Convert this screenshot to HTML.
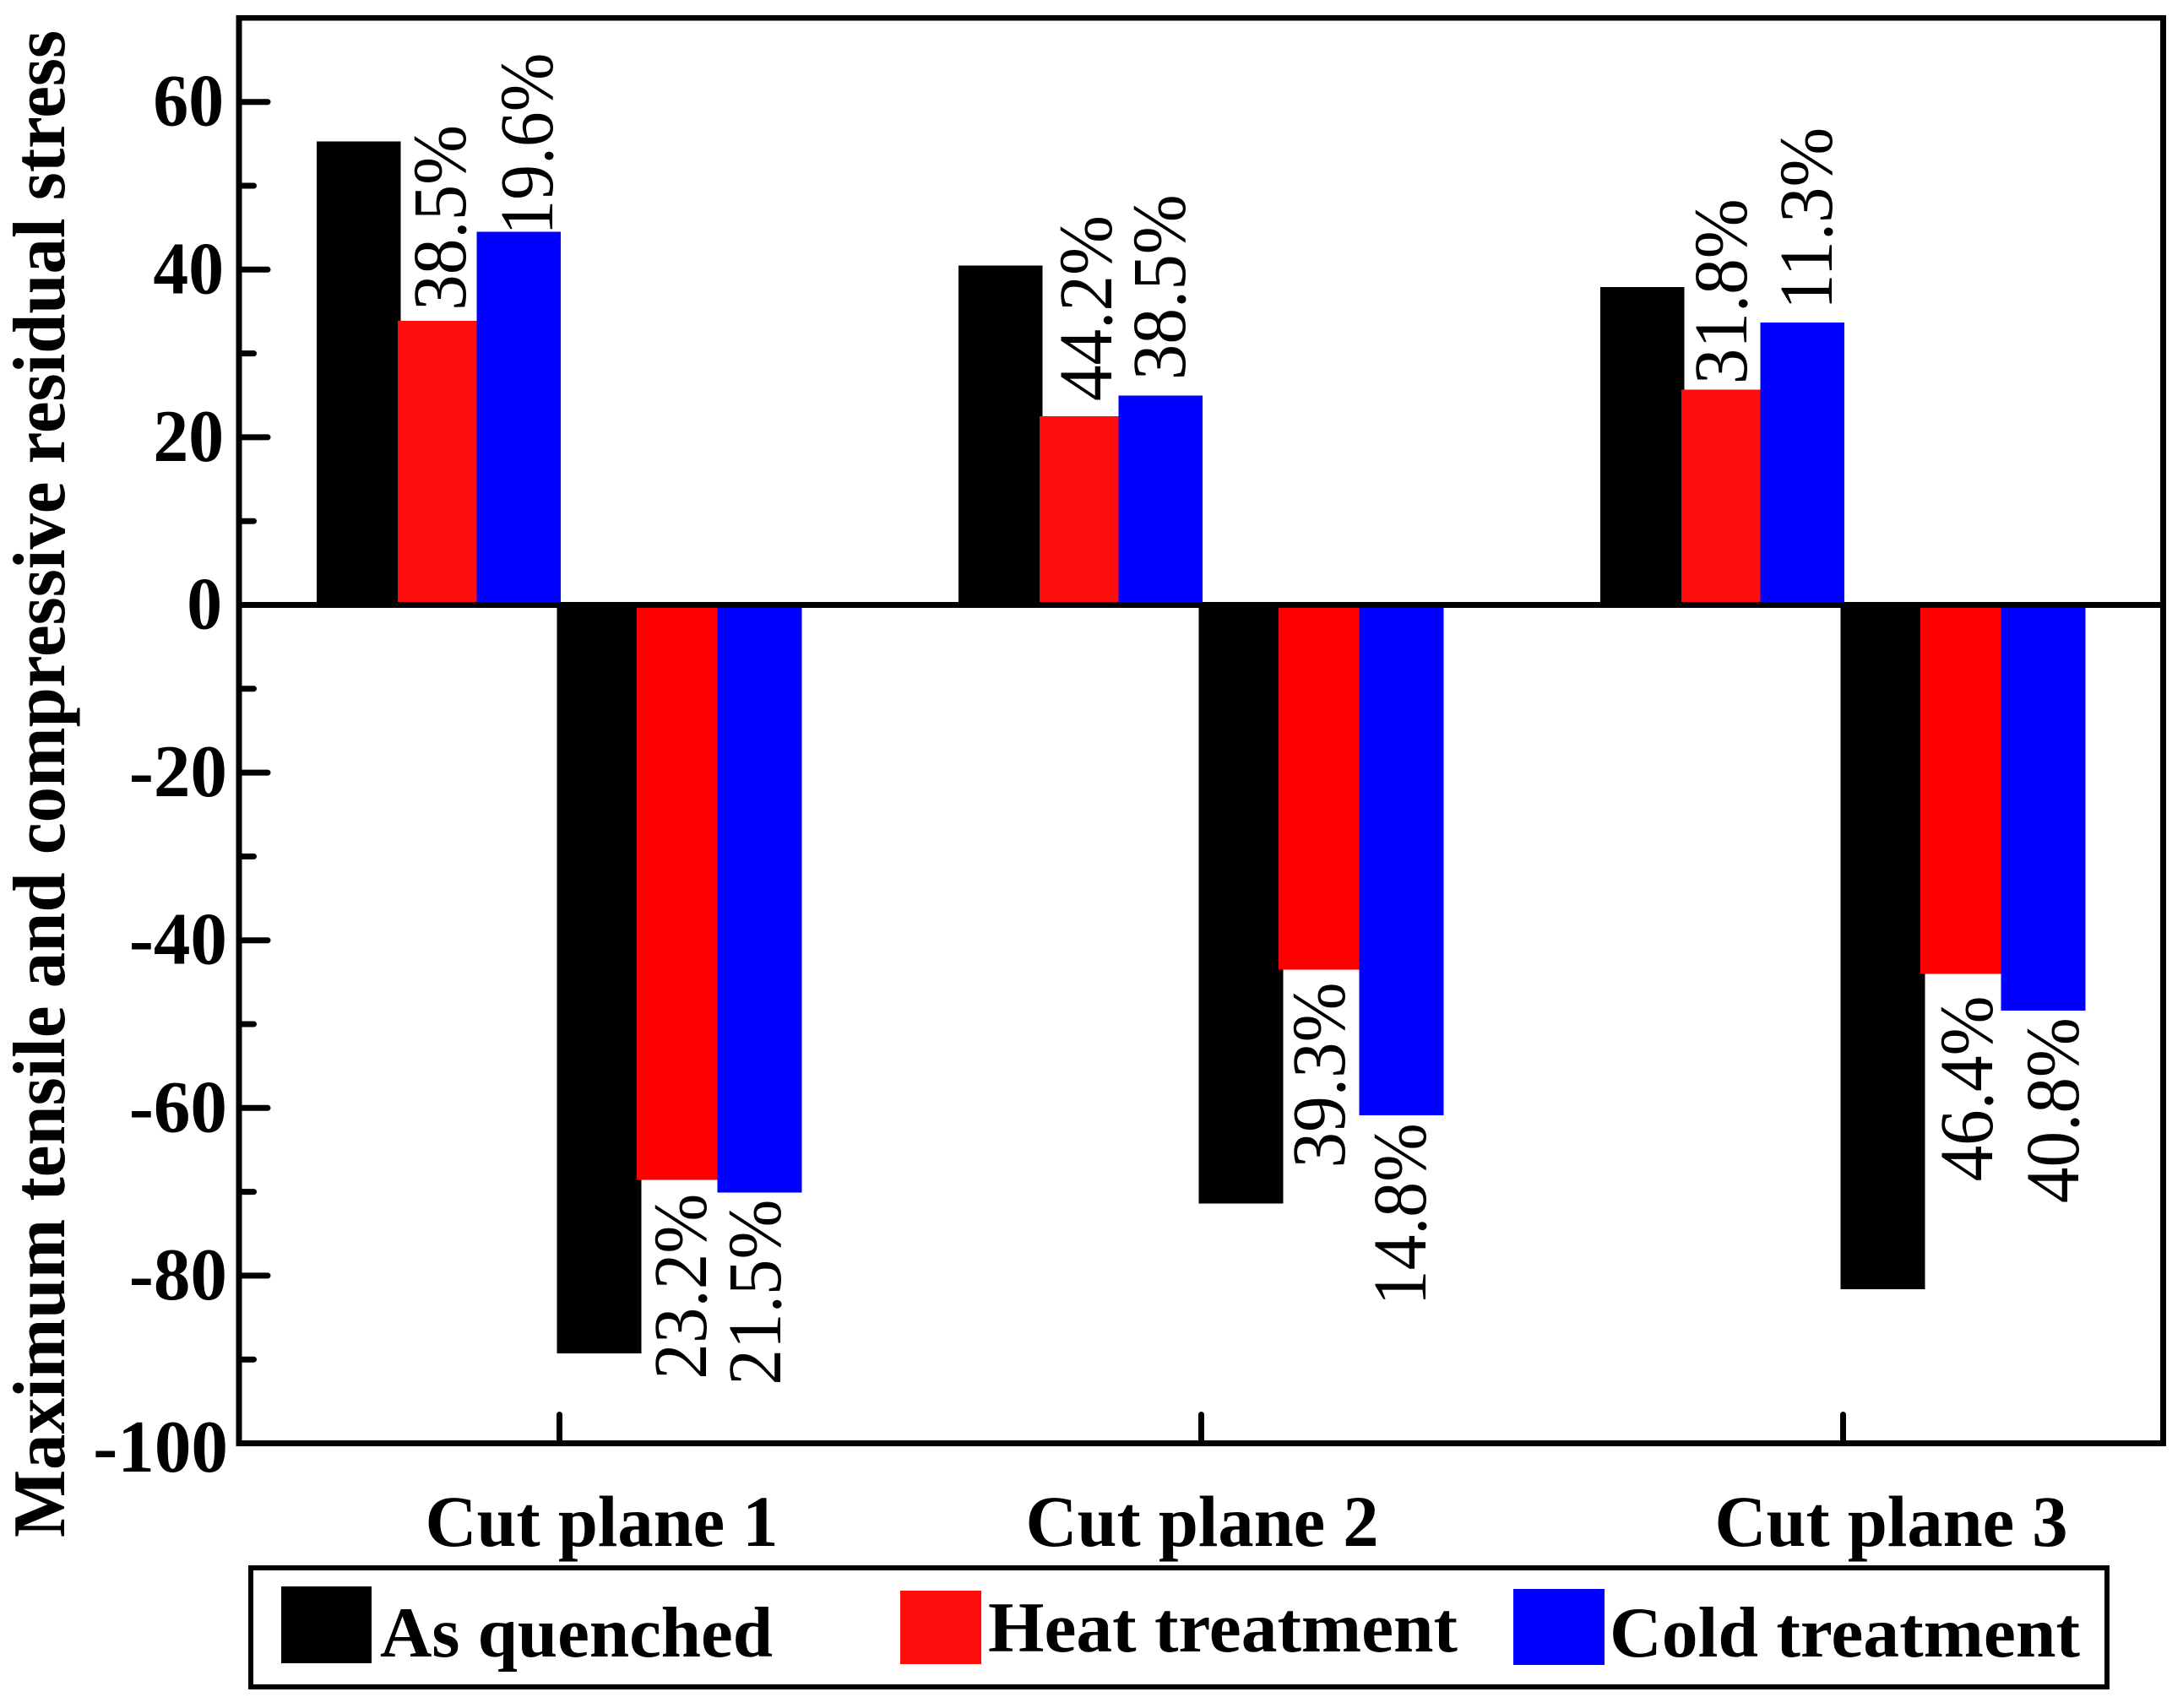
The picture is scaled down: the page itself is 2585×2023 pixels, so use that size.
<!DOCTYPE html>
<html lang="en">
<head>
<meta charset="utf-8">
<title>Maximum tensile and compressive residual stress</title>
<style>
  html, body { margin: 0; padding: 0; background: #fff; }
  svg { display: block; }
  text { font-family: "Liberation Serif", "Times New Roman", serif; fill: #000; }
  .bold { font-weight: 700; }
</style>
</head>
<body>
<svg id="chart" xmlns="http://www.w3.org/2000/svg" width="2585" height="2023" viewBox="0 0 2585 2023">
  <rect x="0" y="0" width="2585" height="2023" fill="#fff"></rect>
  <g id="bars" shape-rendering="crispEdges"></g>
  <g id="axes"></g>
  <g id="value-labels"></g>
  <g id="y-tick-labels"></g>
  <g id="x-tick-labels"></g>

  <text class="bold" font-size="88" transform="translate(76 1821) rotate(-90)" textLength="1785" lengthAdjust="spacingAndGlyphs">Maximum tensile and compressive residual stress</text>

  <g>
    <rect x="297" y="1857" width="2198" height="141" fill="#fff" stroke="#000" stroke-width="6"></rect>
    <rect x="333" y="1879" width="107" height="91" fill="#000" shape-rendering="crispEdges"></rect>
    <text class="bold" font-size="85" x="450" y="1962" textLength="465" lengthAdjust="spacingAndGlyphs">As quenched</text>
    <rect x="1066" y="1884" width="96" height="87" fill="#ff0d0d" shape-rendering="crispEdges"></rect>
    <text class="bold" font-size="85" x="1170" y="1956" textLength="556" lengthAdjust="spacingAndGlyphs">Heat treatment</text>
    <rect x="1792" y="1882" width="108" height="90" fill="#0000ff" shape-rendering="crispEdges"></rect>
    <text class="bold" font-size="85" x="1906" y="1962" textLength="557" lengthAdjust="spacingAndGlyphs">Cold treatment</text>
  </g>
</svg>

<script>
// ---- chart data ----
const categories = ["Cut plane 1", "Cut plane 2", "Cut plane 3"];
const asQuenchedTensile = [55.3, 40.5, 37.9];
const heatTreatmentTensile = [33.9, 22.5, 25.7];
const coldTreatmentTensile = [44.5, 25.0, 33.7];
const asQuenchedCompressive = [-89.3, -71.4, -81.6];
const heatTreatmentCompressive = [-68.6, -43.5, -44.0];
const coldTreatmentCompressive = [-70.1, -60.9, -48.4];
const heatTensileLabels = ["38.5%", "44.2%", "31.8%"];
const coldTensileLabels = ["19.6%", "38.5%", "11.3%"];
const heatCompressiveLabels = ["23.2%", "39.3%", "46.4%"];
const coldCompressiveLabels = ["21.5%", "14.8%", "40.8%"];
const yMajorTicks = [60, 40, 20, 0, -20, -40, -60, -80, -100];
const yMinorTicks = [50, 30, 10, -10, -30, -50, -70, -90];

// ---- axis functions ----
const NS = "http://www.w3.org/2000/svg";
function yScale(v) { return 716.5 - v * 9.93; }
function xScale(g) { return 662.5 + g * 760; }

function make(tag, parent, attrs) {
  const el = document.createElementNS(NS, tag);
  for (const k in attrs) el.setAttribute(k, attrs[k]);
  parent.appendChild(el);
  return el;
}

// ---- bars ----
const barsG = document.getElementById("bars");
const barSeries = [
  { key: "as-quenched-tensile", values: asQuenchedTensile, fill: "#000000", left: -287.5, right: -188 },
  { key: "heat-tensile", values: heatTreatmentTensile, fill: "#ff0d0d", left: -191.5, right: -98 },
  { key: "cold-tensile", values: coldTreatmentTensile, fill: "#0000ff", left: -98, right: 1.5 },
  { key: "as-quenched-compressive", values: asQuenchedCompressive, fill: "#000000", left: -3, right: 97 },
  { key: "heat-compressive", values: heatTreatmentCompressive, fill: "#ff0000", left: 91.5, right: 187 },
  { key: "cold-compressive", values: coldTreatmentCompressive, fill: "#0000ff", left: 187, right: 287 }
];
barSeries.forEach(function (s) {
  s.values.forEach(function (v, g) {
    const cx = xScale(g);
    const y0 = yScale(0);
    const y1 = yScale(v);
    const r = make("rect", barsG, {
      x: cx + s.left,
      y: Math.min(y0, y1),
      width: s.right - s.left,
      height: Math.abs(y1 - y0),
      fill: s.fill
    });
    
    
  });
});

// ---- axes ----
const axesG = document.getElementById("axes");
function axisRect(name, x, y, w, h) {
  const r = make("rect", axesG, { x: x, y: y, width: w, height: h, fill: "#000", "shape-rendering": "crispEdges" });
  
  
}
axisRect("frame-left", 279.5, 18, 7, 1695);
axisRect("frame-right", 2558, 18, 7, 1695);
axisRect("frame-top", 279.5, 18, 2285.5, 6.5);
axisRect("frame-bottom", 279.5, 1706, 2285.5, 7);
axisRect("zero-line", 279.5, 713, 2285.5, 7);

function tickLine(name, x1, y1, x2, y2) {
  const l = make("line", axesG, { x1: x1, y1: y1, x2: x2, y2: y2, stroke: "#000", "stroke-width": 7, "stroke-linecap": "round" });
  
  
}
yMajorTicks.forEach(function (v) {
  if (v === 0 || v === -100) return;
  tickLine("y-major-tick", 286, yScale(v), 317, yScale(v));
});
yMinorTicks.forEach(function (v) {
  tickLine("y-minor-tick", 286, yScale(v), 300.5, yScale(v));
});
categories.forEach(function (c, g) {
  tickLine("x-tick", xScale(g), 1675.5, xScale(g), 1706);
});

// ---- y tick labels ----
const yLabelsG = document.getElementById("y-tick-labels");
yMajorTicks.forEach(function (v) {
  let right = v > 0 ? 265 : (v === 0 ? 263 : 269);
  let drop = 28;
  if (v === -100) { right = 270; drop = 33.5; }
  const t = make("text", yLabelsG, { class: "bold", "font-size": 88, x: right, y: yScale(v) + drop, "text-anchor": "end" });
  t.textContent = String(v);
  
  
  t.setAttribute("textLength", t.getComputedTextLength() * (v < 0 ? 0.99 : 0.95));
  t.setAttribute("lengthAdjust", "spacingAndGlyphs");
});

// ---- x tick labels ----
const xLabelsG = document.getElementById("x-tick-labels");
const xLabelLeft = [-159, -208, -152];
const xLabelBase = [1831, 1831, 1831];
categories.forEach(function (c, g) {
  const t = make("text", xLabelsG, {
    class: "bold", "font-size": 86,
    x: xScale(g) + xLabelLeft[g], y: xLabelBase[g],
    textLength: 418, lengthAdjust: "spacingAndGlyphs"
  });
  t.textContent = c;
  
  
});

// ---- rotated percentage labels, anchored to the end of each bar ----
const valueG = document.getElementById("value-labels");
const labelSets = [
  { labels: heatTensileLabels, values: heatTreatmentTensile, dx: [-111.5, -106.5, -114.5], gap: [15, 21, 9], dir: -1 },
  { labels: coldTensileLabels, values: coldTreatmentTensile, dx: [-8.5, -19.5, -13.5], gap: [5, 21, 24], dir: -1 },
  { labels: heatCompressiveLabels, values: heatTreatmentCompressive, dx: [173.5, 169.5, 176.5], gap: [19, 18, 29], dir: 1 },
  { labels: coldCompressiveLabels, values: coldTreatmentCompressive, dx: [261.5, 265.5, 278.5], gap: [11, 12, 11], dir: 1 }
];
labelSets.forEach(function (set) {
  set.labels.forEach(function (txt, g) {
    const barEnd = yScale(set.values[g]);
    const leadingOne = txt.charAt(0) === "1";
    const labelLength = leadingOne ? 216 : 220;
    const start = set.dir < 0
      ? barEnd - set.gap[g] + (leadingOne ? 9 : 3)
      : barEnd + set.gap[g] + labelLength - 3;
    const t = make("text", valueG, {
      "font-size": 90,
      transform: "translate(" + (xScale(g) + set.dx[g]) + " " + start + ") rotate(-90)",
      textLength: labelLength,
      lengthAdjust: "spacingAndGlyphs"
    });
    t.textContent = txt;
    
    
  });
});
</script>
</body>
</html>
